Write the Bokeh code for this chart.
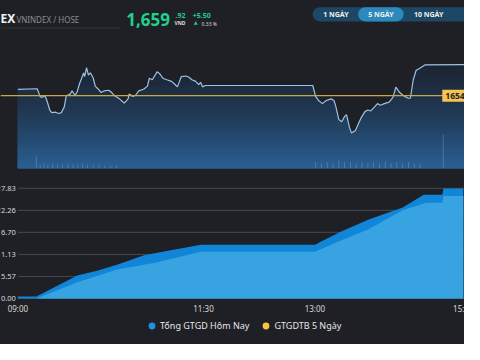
from bokeh.plotting import figure
from bokeh.layouts import column
from bokeh.models import Range1d, Span, Label, Legend, LegendItem
from bokeh.core.properties import value
from bokeh.embed import file_html
from bokeh.resources import INLINE

# ---------------- data ----------------
# 5-day intraday index (sample index along 5 sessions, index points)
price_t = [0, 20, 23, 25, 28, 30, 33, 35, 39, 42, 45, 48, 50, 54, 56, 59, 61, 64, 66, 68, 69, 71, 73, 75,
           78, 80, 84, 86, 89, 94, 97, 100, 105, 110, 114, 115, 119, 122, 125, 130, 134, 136, 139, 144,
           147, 150, 154, 159, 162, 165, 169, 174, 177, 180, 184, 187, 189, 191, 194, 305, 308, 311, 315,
           319, 324, 327, 329, 332, 335, 338, 340, 343, 345, 349, 352, 355, 359, 362, 365, 369, 372, 375,
           379, 384, 388, 391, 395, 398, 400, 404, 406, 409, 412, 415, 421, 462]
price_v = [1655.22, 1655.33, 1653.82, 1653.69, 1654.00, 1653.09, 1651.27, 1650.78, 1650.85, 1650.60,
           1650.78, 1651.87, 1654.00, 1654.31, 1654.91, 1654.13, 1654.60, 1656.42, 1657.33, 1658.36,
           1657.64, 1659.33, 1657.95, 1658.36, 1657.33, 1655.82, 1655.09, 1654.60, 1654.91, 1655.04,
           1654.60, 1654.00, 1653.40, 1652.60, 1653.40, 1654.31, 1653.87, 1654.13, 1654.91, 1655.22,
           1655.82, 1657.33, 1657.04, 1658.55, 1658.13, 1657.33, 1657.04, 1656.73, 1656.24, 1655.69,
           1657.64, 1657.76, 1657.51, 1657.04, 1656.73, 1656.13, 1656.55, 1655.69, 1655.95, 1655.95,
           1653.87, 1653.09, 1652.49, 1653.09, 1653.40, 1653.09, 1651.87, 1649.45, 1649.04, 1650.05,
           1650.36, 1647.95, 1646.91, 1647.33, 1648.55, 1649.76, 1650.96, 1651.27, 1651.09, 1651.87,
           1652.49, 1652.18, 1652.49, 1652.78, 1653.69, 1655.64, 1654.60, 1654.13, 1653.87, 1653.51,
           1653.51, 1657.04, 1658.85, 1659.15, 1659.87, 1659.92]
ref_price = 1654
vol_t = [19, 23, 27, 31, 36, 41, 46, 52, 57, 62, 67, 72, 78, 84, 90, 96, 102, 308, 314, 320, 326, 332,
         338, 344, 350, 356, 362, 368, 374, 380, 386, 392, 398, 404, 410, 416, 440]
vol_v = [10, 3, 4, 3, 4, 3, 3, 4, 3, 3, 4, 3, 3, 3, 2, 2, 2, 5, 4, 5, 4, 6, 5, 5, 4, 5, 4, 5, 4, 5, 4,
         5, 4, 5, 4, 4, 27]

# cumulative traded value (minutes after 09:00)
today_t = [0, 15, 48, 64, 80, 102, 127, 148, 150, 240, 260, 283, 311, 328, 343, 344, 360]
today_v = [0.48, 0.48, 5.8, 7.0, 8.5, 10.9, 12.4, 13.6, 13.6, 13.6, 16.7, 19.9, 23.0, 26.2, 26.2, 27.8, 27.8]
inner_t = [0, 15, 48, 80, 111, 148, 150, 240, 260, 283, 311, 330, 343, 344, 360]
inner_v = [0, 0, 4.1, 7.3, 9.0, 11.8, 11.8, 11.8, 14.5, 17.4, 22.3, 24.2, 24.2, 25.9, 25.9]

y_ticks = [0, 5.57, 11.13, 16.70, 22.26, 27.83]
y_tick_labels = ["0.00", "5.57", "11.13", "16.70", "22.26", "27.83"]
x_ticks = [0, 150, 240, 360]
x_tick_labels = ["09:00", "11:30", "13:00", "15:00"]
legend_labels = ["Tổng GTGD Hôm Nay", "GTGDTB 5 Ngày"]
range_buttons = ["1 NGÀY", "5 NGÀY", "10 NGÀY"]

# ---------------- style ----------------
BG = "#1f2025"
W = 464
FONT = value("Noto Sans")
GREEN = "#22cf8d"
NAN = float("nan")
ZERO = dict(min_border_left=0, min_border_right=0, min_border_top=0, min_border_bottom=0)


def base(fig):
    fig.background_fill_color = BG
    fig.border_fill_color = BG
    fig.outline_line_color = None
    fig.grid.visible = False
    return fig


# ---------------- header ----------------
h = base(figure(width=W, height=38, x_range=Range1d(0, 480), y_range=Range1d(40, 0),
                toolbar_location=None, output_backend="svg", x_axis_location=None,
                y_axis_location=None, **ZERO))
h.text(x=[0], y=[18.5], text=["EX"], text_font=FONT, text_font_style="bold", text_font_size="12px",
       text_color="#f2f2f2", text_baseline="middle")
h.text(x=[16.5], y=[19.5], text=["VNINDEX / HOSE"], text_font=FONT, text_font_size="8px",
       text_color="#8b8e95", text_baseline="middle")
h.segment(x0=[0], y0=[29], x1=[124], y1=[29], line_color="#33353b", line_width=1)
h.text(x=[130], y=[20.5], text=["1,659"], text_font=FONT, text_font_style="bold", text_font_size="17px",
       text_color=GREEN, text_baseline="middle")
h.text(x=[181], y=[16], text=[".92"], text_font=FONT, text_font_style="bold", text_font_size="7px",
       text_color=GREEN, text_baseline="middle")
h.text(x=[180], y=[24], text=["VND"], text_font=FONT, text_font_style="bold", text_font_size="5px",
       text_color="#dddddd", text_baseline="middle")
h.text(x=[199], y=[16], text=["+5.50"], text_font=FONT, text_font_style="bold", text_font_size="7px",
       text_color=GREEN, text_baseline="middle")
h.scatter(x=[202], y=[24.3], marker="triangle", size=4, fill_color=GREEN, line_color=None)
h.text(x=[208], y=[24.3], text=["0.33 %"], text_font=FONT, text_font_size="5px",
       text_color="#dddddd", text_baseline="middle")
h.quad(left=[323], right=[490], top=[7], bottom=[22], fill_color="#1c4765", line_color=None,
       border_radius=7)
h.quad(left=[370], right=[417], top=[7], bottom=[22], fill_color="#2c89bc", line_color=None,
       border_radius=7)
h.text(x=[347, 393.5, 443], y=[14.8] * 3, text=range_buttons, text_font=FONT, text_font_style="bold",
       text_font_size="7px", text_color="#f0f0f0", text_align="center", text_baseline="middle")

# ---------------- price chart ----------------
PPX = 1 / 5.5                       # index points per reference pixel
Y0, Y1 = 1640.18, 1664.0            # extent of the shaded price panel
tp = base(figure(width=W, height=143, x_range=Range1d(-18, 462),
                 y_range=Range1d(ref_price - 90 * PPX, ref_price + 60 * PPX),
                 toolbar_location=None, output_backend="svg", x_axis_location=None,
                 y_axis_location=None, **ZERO))
n = 48
top_c = (28, 33, 45)
bot_c = (42, 97, 150)
lefts, rights, bots, tops, cols = [], [], [], [], []
for i in range(n):
    b = Y0 + (Y1 - Y0) * i / n
    t = Y0 + (Y1 - Y0) * (i + 1) / n
    f = 1 - (i + 0.5) / n
    g = f ** 1.6
    c = tuple(int(round(top_c[k] + (bot_c[k] - top_c[k]) * g)) for k in range(3))
    lefts.append(0); rights.append(462); bots.append(b); tops.append(t)
    cols.append("#%02x%02x%02x" % c)
tp.quad(left=lefts, right=rights, bottom=bots, top=tops, fill_color=cols, line_color=cols)
tp.varea(x=price_t, y1=price_v, y2=[Y1] * len(price_t), fill_color=BG)
vpp = 100 / ((Y1 - Y0) / PPX)       # volume units per reference pixel
tp.extra_y_ranges = {"vol": Range1d(-14 * vpp, 100 + 5 * vpp)}
tp.vbar(x=vol_t, top=vol_v, width=0.9, y_range_name="vol", fill_color="#9bbcdc", line_color=None,
        fill_alpha=0.35)
tp.line(price_t, price_v, line_color="#9dc2e3", line_width=1.2)
tp.add_layout(Span(location=ref_price, dimension="width", line_color="#c9a746", line_width=1.2))
tp.add_layout(Label(x=439, y=ref_price, text=str(ref_price), text_font="Noto Sans",
                    text_font_style="bold", text_font_size="8.5px", text_color="#222222",
                    text_baseline="middle", background_fill_color="#f6c453", padding=3))

# ---------------- traded value chart ----------------
PXV = 5.57 / 23.0      # value per reference pixel
PXT = 1 / 1.28         # minutes per reference pixel
bp = base(figure(width=W, height=163, x_range=Range1d(-18 * PXT, 462 * PXT),
                 y_range=Range1d(-48 * PXV, 122 * PXV), toolbar_location=None, output_backend="svg",
                 x_axis_location=None, y_axis_location=None, **ZERO))
bp.segment(x0=[0] * len(y_ticks), x1=[462 * PXT] * len(y_ticks), y0=y_ticks, y1=y_ticks,
           line_color="#46484e", line_width=1)
bp.varea(x=today_t, y1=[0] * len(today_t), y2=today_v, fill_color="#1186d8")
bp.varea(x=inner_t, y1=[0] * len(inner_t), y2=inner_v, fill_color="#37a4e1")
bp.text(x=[0] * len(y_ticks), y=y_ticks, text=y_tick_labels, x_offset=-2, text_align="right",
        text_baseline="middle", text_font=FONT, text_font_size="7.5px", text_color="#d8d8d8")
bp.text(x=x_ticks, y=[-10 * PXV] * len(x_ticks), text=x_tick_labels, text_align="center",
        text_baseline="middle", text_font=FONT, text_font_size="8px", text_color="#d8d8d8")
r1 = bp.scatter(x=[NAN], y=[NAN], size=7, fill_color="#1e90e8", line_color=None)
r2 = bp.scatter(x=[NAN], y=[NAN], size=7, fill_color="#f6c445", line_color=None)
leg = Legend(items=[LegendItem(label=legend_labels[0], renderers=[r1], index=0),
                    LegendItem(label=legend_labels[1], renderers=[r2], index=0)],
             orientation="horizontal", location=(143, 10.5), glyph_width=17, glyph_height=17,
             label_height=17, label_standoff=0, spacing=8, padding=0, margin=0,
             label_text_font="Noto Sans", label_text_font_size="9px", label_text_color="#e6e6e6",
             background_fill_alpha=0, border_line_color=None)
bp.add_layout(leg, "center")

page = column(h, tp, bp, spacing=0)
page.background = BG
open("out.html", "w").write(file_html(page, INLINE))
